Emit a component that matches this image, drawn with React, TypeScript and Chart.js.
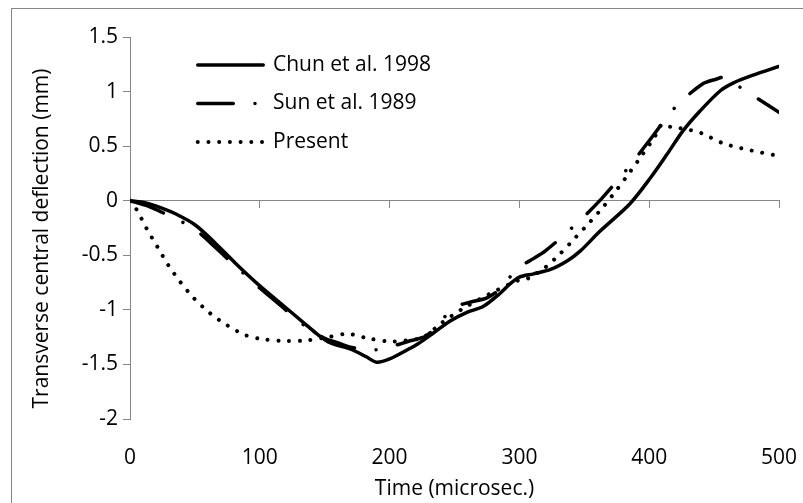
import React, { useEffect, useRef } from 'react';
import { Chart, registerables } from 'chart.js';

Chart.register(...registerables);

// ---- data ----
const seriesLabels = ['Chun et al. 1998', 'Sun et al. 1989', 'Present'];

const chunTime = [0, 12, 25, 35, 50, 65, 81, 100, 118, 135, 144, 154, 170, 182, 190, 200, 213, 222, 234, 247, 260, 272, 285, 293, 300, 311, 324, 337, 347, 362, 385, 401, 414, 426, 439, 455, 465, 480, 500];
const chunDefl = [0, -0.02, -0.07, -0.12, -0.22, -0.38, -0.57, -0.78, -0.96, -1.13, -1.22, -1.3, -1.36, -1.43, -1.48, -1.45, -1.37, -1.31, -1.21, -1.1, -1.02, -0.97, -0.85, -0.76, -0.7, -0.67, -0.63, -0.55, -0.46, -0.28, -0.03, 0.21, 0.43, 0.64, 0.82, 1.01, 1.08, 1.15, 1.23];

const sunTime = [0, 14, 27, 41, 54, 65, 75, 86, 100, 118, 135, 150, 162, 169, 185, 200, 214, 228, 239, 249, 262, 275, 288, 297, 308, 320, 344, 363, 384, 401, 420, 441, 452, 458, 470, 485, 500];
const sunDefl = [0, -0.05, -0.12, -0.2, -0.3, -0.42, -0.53, -0.65, -0.8, -0.98, -1.15, -1.26, -1.31, -1.34, -1.37, -1.34, -1.29, -1.24, -1.115, -0.98, -0.93, -0.89, -0.78, -0.63, -0.55, -0.46, -0.21, 0.015, 0.305, 0.565, 0.855, 1.07, 1.115, 1.13, 1.04, 0.925, 0.81];

const presentTime = [0, 5, 13, 21, 29.5, 38.5, 49, 61.6, 74.7, 88.6, 102.5, 121, 136, 152.5, 168, 183, 199.5, 213, 226, 240, 255, 276, 299, 307, 320, 331, 343, 354, 365, 375, 385, 394, 404, 410, 418, 426, 440, 456, 471, 487, 500];
const presentDefl = [0, -0.08, -0.26, -0.42, -0.59, -0.74, -0.89, -1.03, -1.14, -1.23, -1.27, -1.285, -1.28, -1.25, -1.22, -1.26, -1.29, -1.28, -1.25, -1.12, -1.0, -0.86, -0.73, -0.71, -0.61, -0.49, -0.34, -0.2, -0.05, 0.1, 0.26, 0.41, 0.58, 0.7, 0.67, 0.66, 0.62, 0.53, 0.48, 0.44, 0.41];

const xMin = 0;
const xMax = 500;
const xStep = 100;
const yMin = -2;
const yMax = 1.5;
const yStep = 0.5;
const xAxisTitle = 'Time (microsec.)';
const yAxisTitle = 'Transverse central deflection (mm)';

// ---- styles ----
const FONT = '"Open Sans", sans-serif';
const FONT_SIZE = 21;
const GREY = '#868686';

const toPoints = (xs: number[], ys: number[]) => xs.map((x, i) => ({ x, y: ys[i] }));

const decorPlugin = {
  id: 'decor',
  beforeDraw(chart: any) {
    const ctx = chart.ctx;
    ctx.save();
    ctx.fillStyle = '#fff';
    ctx.fillRect(0, 0, chart.width, chart.height);
    ctx.strokeStyle = GREY;
    ctx.lineWidth = 1;
    ctx.strokeRect(11.5, 8.5, chart.width + 20, chart.height + 20);
    ctx.restore();
  },
  afterDraw(chart: any) {
    const ctx = chart.ctx;
    const ca = chart.chartArea;
    // y axis title
    ctx.save();
    ctx.font = `${FONT_SIZE}px ${FONT}`;
    ctx.fillStyle = '#000';
    ctx.textAlign = 'center';
    ctx.textBaseline = 'middle';
    ctx.translate(ca.left - 87.5, (ca.top + ca.bottom) / 2 + 10.5);
    ctx.rotate(-Math.PI / 2);
    ctx.fillText(yAxisTitle, 0, 0);
    ctx.restore();
    // legend
    chart.data.datasets.forEach((ds: any, i: number) => {
      const y = ca.top + 28 + i * 38.5;
      const x0 = ca.left + 66;
      ctx.save();
      ctx.strokeStyle = ds.borderColor;
      ctx.lineWidth = ds.borderWidth;
      ctx.lineCap = 'round';
      ctx.setLineDash(ds.borderDash || []);
      ctx.beginPath();
      ctx.moveTo(x0 + 1.75, y);
      ctx.lineTo(x0 + 67.25, y);
      ctx.stroke();
      ctx.restore();
      ctx.save();
      ctx.font = `${FONT_SIZE}px ${FONT}`;
      ctx.fillStyle = '#000';
      ctx.textAlign = 'left';
      ctx.textBaseline = 'middle';
      ctx.fillText(ds.label, x0 + 77, y);
      ctx.restore();
    });
  },
};

export default function App() {
  const ref = useRef<HTMLCanvasElement>(null);
  useEffect(() => {
    document.body.style.margin = '0';
    const chart = new Chart(ref.current as HTMLCanvasElement, {
      type: 'line',
      data: {
        datasets: [
          {
            label: seriesLabels[0],
            data: toPoints(chunTime, chunDefl),
            borderColor: '#000',
            borderWidth: 3.5,
            borderDash: [],
            xAxisID: 'x',
            yAxisID: 'y',
          },
          {
            label: seriesLabels[1],
            data: toPoints(sunTime, sunDefl),
            borderColor: '#000',
            borderWidth: 3.5,
            borderDash: [35.5, 21.75, 0.01, 21.75],
            xAxisID: 'x',
            yAxisID: 'y',
          },
          {
            label: seriesLabels[2],
            data: toPoints(presentTime, presentDefl),
            borderColor: '#000',
            borderWidth: 4,
            borderDash: [0.01, 10.7],
            xAxisID: 'x',
            yAxisID: 'y',
          },
        ],
      },
      options: {
        animation: false,
        responsive: false,
        devicePixelRatio: 1,
        layout: { padding: { left: 11, top: 37, right: 24, bottom: 0 } },
        plugins: { legend: { display: false }, tooltip: { enabled: false } },
        elements: {
          point: { radius: 0 },
          line: { tension: 0.3, borderCapStyle: 'round', borderJoinStyle: 'round', fill: false },
        },
        scales: {
          x: {
            type: 'linear',
            position: { y: 0 } as any,
            min: xMin,
            max: xMax,
            ticks: { display: false, stepSize: xStep },
            grid: { drawOnChartArea: false, drawTicks: true, tickLength: 7, color: GREY },
            border: { color: GREY, width: 1 },
          },
          xb: {
            type: 'linear',
            axis: 'x',
            position: 'bottom',
            min: xMin,
            max: xMax,
            ticks: {
              stepSize: xStep,
              padding: 0,
              color: '#000',
              maxRotation: 0,
              font: { family: FONT, size: FONT_SIZE },
            },
            grid: {
              display: true,
              drawOnChartArea: false,
              drawTicks: true,
              tickLength: 26,
              color: 'rgba(0,0,0,0)',
              tickColor: 'rgba(0,0,0,0)',
            },
            border: { display: false },
            title: {
              display: true,
              text: xAxisTitle,
              color: '#000',
              font: { family: FONT, size: FONT_SIZE },
              padding: { top: 0, bottom: 1 },
            },
            afterFit: (s: any) => {
              s.height = 84;
            },
          },
          y: {
            type: 'linear',
            position: 'left',
            min: yMin,
            max: yMax,
            ticks: {
              stepSize: yStep,
              padding: 5,
              color: '#000',
              font: { family: FONT, size: FONT_SIZE },
              callback: (v: any) => String(Math.round(Number(v) * 10) / 10),
            },
            grid: { drawOnChartArea: false, drawTicks: true, tickLength: 7, color: GREY },
            border: { color: GREY, width: 1 },
            afterFit: (s: any) => {
              s.width = 119;
            },
          },
        },
      } as any,
      plugins: [decorPlugin],
    });
    return () => chart.destroy();
  }, []);
  return (
    <div style={{ position: 'absolute', left: 0, top: 0, width: 803, height: 503, background: '#fff' }}>
      <canvas ref={ref} width={803} height={503} style={{ display: 'block', width: 803, height: 503 }} />
    </div>
  );
}
